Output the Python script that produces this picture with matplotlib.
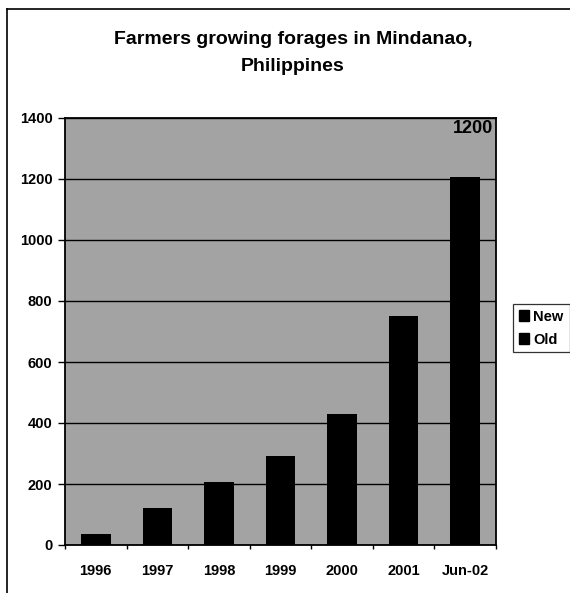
import matplotlib
matplotlib.use("Agg")
import matplotlib.pyplot as plt
from matplotlib.lines import Line2D
from matplotlib.patches import Patch
import numpy as np

categories = ["1996", "1997", "1998", "1999", "2000", "2001", "Jun-02"]
old_values = [36, 120, 207, 292, 430, 750, 1205]
new_values = [0, 0, 0, 0, 0, 0, 0]
yticks = [0, 200, 400, 600, 800, 1000, 1200, 1400]
title = "Farmers growing forages in Mindanao,\nPhilippines"
annotation = "1200"

plt.rcParams['font.family'] = ['Liberation Sans', 'DejaVu Sans']

fig = plt.figure(figsize=(5.7, 5.93), dpi=100)
W, H = 570, 593
ax = fig.add_axes([65 / W, (H - 545) / H, (496 - 65) / W, (545 - 118) / H])
ax.set_facecolor("#a3a3a3")

x = np.arange(len(categories))
ax.bar(x, old_values, width=0.48, color="black", zorder=3)
ax.bar(x, new_values, bottom=old_values, width=0.48, color="black", zorder=3)

ax.set_xlim(-0.5, len(categories) - 0.5)
ax.set_ylim(0, 1400)
ax.set_yticks(yticks)
ax.set_yticklabels([str(v) for v in yticks], fontsize=10.5, fontweight="bold")
ax.yaxis.grid(True, color="black", linewidth=1.0, zorder=1)
ax.set_axisbelow(True)
ax.set_xticks(x)
ax.set_xticklabels(categories, fontsize=10.5, fontweight="bold")
ax.tick_params(axis="x", length=0, pad=14)
ax.set_xticks(np.arange(-0.5, len(categories), 1), minor=True)
ax.tick_params(axis="x", which="minor", length=3, width=1, direction="out")
ax.tick_params(axis="y", length=5, width=1, direction="out", pad=4)
for s in ax.spines.values():
    s.set_linewidth(1.3)
    s.set_color("black")

ax.text(len(categories) - 0.5 - 0.05, 1365, annotation, ha="right", va="center",
        fontsize=13, fontweight="bold", zorder=4)

fig.text(293 / W, 1 - 53 / H, title, ha="center", va="center",
         fontsize=14, fontweight="bold", linespacing=1.75)

handles = [Patch(facecolor="black", edgecolor="black", label="New"),
           Patch(facecolor="black", edgecolor="black", label="Old")]
leg = fig.legend(handles=handles, loc="upper left",
                 bbox_to_anchor=(513 / W, 1 - 304 / H), fontsize=10.5,
                 frameon=True, fancybox=False, edgecolor="black",
                 handlelength=0.7, handleheight=0.8, handletextpad=0.3,
                 borderpad=0.4, labelspacing=0.6, borderaxespad=0)
for t in leg.get_texts():
    t.set_fontweight("bold")
leg.get_frame().set_linewidth(0.9)

fig.add_artist(Line2D([7 / W, 1.0], [1 - 9 / H, 1 - 9 / H], transform=fig.transFigure,
                      color="black", linewidth=1.2))
fig.add_artist(Line2D([7 / W, 7 / W], [0, 1 - 9 / H], transform=fig.transFigure,
                      color="black", linewidth=1.2))

fig.savefig("out.png", dpi=100)
